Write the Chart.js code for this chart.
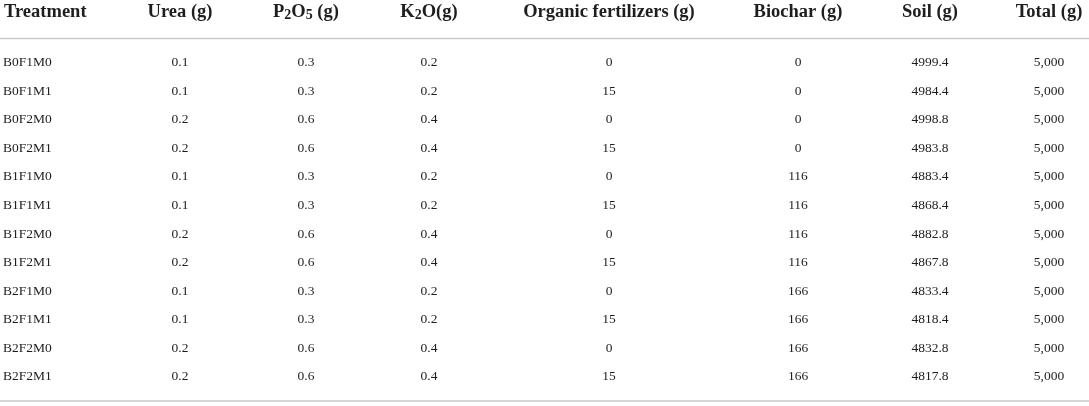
<!DOCTYPE html>
<html>
<head>
<meta charset="utf-8">
<script src="https://cdn.jsdelivr.net/npm/chart.js@4.4.1/dist/chart.umd.min.js"></script>
<style>
  html, body { margin: 0; padding: 0; background: #fff; }
  #wrap { width: 1089px; height: 406px; position: relative; }
</style>
</head>
<body>
<div id="wrap"><canvas id="table"></canvas></div>
<script>
const treatments = ['B0F1M0', 'B0F1M1', 'B0F2M0', 'B0F2M1', 'B1F1M0', 'B1F1M1',
  'B1F2M0', 'B1F2M1', 'B2F1M0', 'B2F1M1', 'B2F2M0', 'B2F2M1']
const urea = [0.1, 0.1, 0.2, 0.2, 0.1, 0.1, 0.2, 0.2, 0.1, 0.1, 0.2, 0.2]
const p2o5 = [0.3, 0.3, 0.6, 0.6, 0.3, 0.3, 0.6, 0.6, 0.3, 0.3, 0.6, 0.6]
const k2o = [0.2, 0.2, 0.4, 0.4, 0.2, 0.2, 0.4, 0.4, 0.2, 0.2, 0.4, 0.4]
const organic = [0, 15, 0, 15, 0, 15, 0, 15, 0, 15, 0, 15]
const biochar = [0, 0, 0, 0, 116, 116, 116, 116, 166, 166, 166, 166]
const soil = [4999.4, 4984.4, 4998.8, 4983.8, 4883.4, 4868.4, 4882.8, 4867.8,
  4833.4, 4818.4, 4832.8, 4817.8]
const total = [5000, 5000, 5000, 5000, 5000, 5000, 5000, 5000, 5000, 5000, 5000, 5000]
const headers = ['Treatment', 'Urea (g)', 'P₂O₅ (g)', 'K₂O(g)', 'Organic fertilizers (g)',
  'Biochar (g)', 'Soil (g)', 'Total (g)']

// column anchors along the x scale (0..1089)
const colX = [3, 180, 306, 429, 609, 798, 930, 1049]
const columns = [treatments, urea, p2o5, k2o, organic, biochar, soil, total]

const textColor = '#1e1e1e'
const serif = '"Liberation Serif", "DejaVu Serif", serif'

const fmt = (col, v) => {
  if (col === total) return v.toLocaleString('en-US')
  return String(v)
}

// draw a header with real subscript digits lowered and shrunk
const subs = { '₂': '2', '₅': '5' }
function drawHeader(ctx, text, x, y, align) {
  const big = 'bold 18.5px ' + serif
  const small = 'bold 14px ' + serif
  const parts = []
  for (const ch of text) {
    const sub = subs[ch] !== undefined
    const last = parts[parts.length - 1]
    if (last && last.sub === sub) last.t += sub ? subs[ch] : ch
    else parts.push({ t: sub ? subs[ch] : ch, sub })
  }
  let width = 0
  parts.forEach((p) => {
    ctx.font = p.sub ? small : big
    p.w = ctx.measureText(p.t).width
    width += p.w
  })
  let cx = align === 'left' ? x : x - width / 2
  ctx.textAlign = 'left'
  parts.forEach((p) => {
    ctx.font = p.sub ? small : big
    ctx.fillText(p.t, cx, p.sub ? y + 3 : y)
    cx += p.w
  })
}

const tablePlugin = {
  id: 'tableText',
  afterDatasetsDraw(chart) {
    const ctx = chart.ctx
    const { top, bottom, left, right } = chart.chartArea
    ctx.save()
    ctx.strokeStyle = '#c9c9c9'
    ctx.lineWidth = 1.5
    ctx.beginPath()
    ctx.moveTo(left, top - 10)
    ctx.lineTo(right, top - 10)
    ctx.moveTo(left, bottom + 10)
    ctx.lineTo(right, bottom + 10)
    ctx.stroke()

    ctx.fillStyle = textColor
    ctx.textBaseline = 'middle'
    chart.data.datasets.forEach((ds, i) => {
      const meta = chart.getDatasetMeta(i)
      const align = i === 0 ? 'left' : 'center'
      const hx = chart.scales.x.getPixelForValue(colX[i])
      drawHeader(ctx, headers[i], hx + (i === 0 ? 1 : 0), top - 36, align)

      ctx.font = '13.5px ' + serif
      ctx.textAlign = align
      meta.data.forEach((pt, j) => {
        ctx.fillText(fmt(columns[i], columns[i][j]), pt.x, pt.y)
      })
    })
    ctx.restore()
  },
}

new Chart(document.getElementById('table'), {
  type: 'scatter',
  data: {
    datasets: columns.map((col, i) => ({
      label: headers[i],
      data: col.map((v, j) => ({ x: colX[i], y: treatments[j] })),
      pointRadius: 0,
      pointHoverRadius: 0,
    })),
  },
  options: {
    responsive: true,
    maintainAspectRatio: false,
    animation: false,
    events: [],
    layout: { padding: { top: 48.5, bottom: 15, left: 0, right: 0 } },
    plugins: { legend: { display: false }, tooltip: { enabled: false } },
    scales: {
      x: { type: 'linear', min: 0, max: 1089, display: false },
      y: { type: 'category', labels: treatments, offset: true, display: false },
    },
  },
  plugins: [tablePlugin],
})
</script>
</body>
</html>
